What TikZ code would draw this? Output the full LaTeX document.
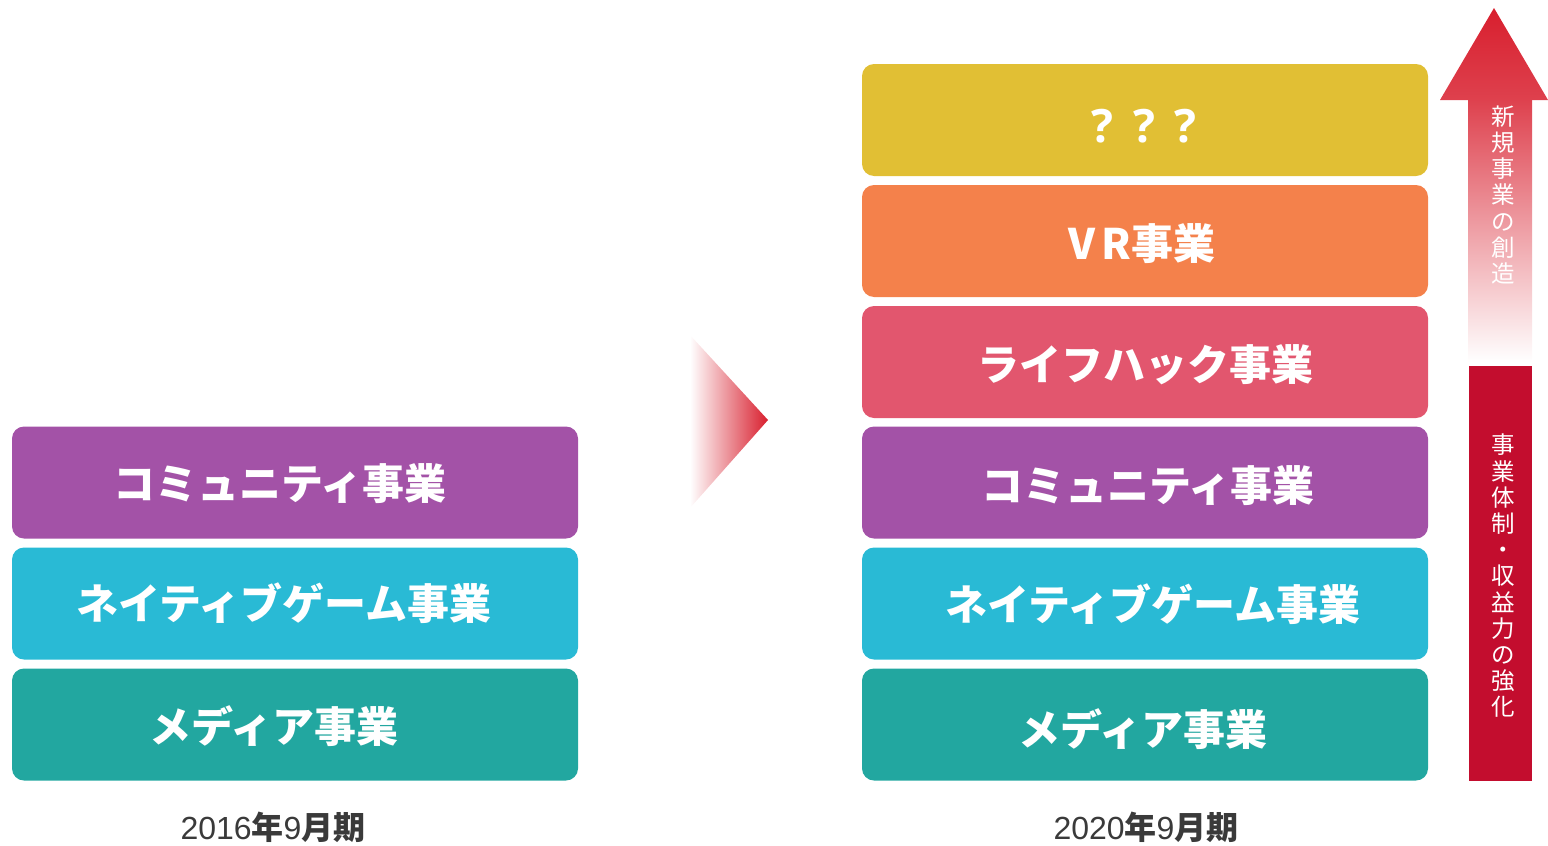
\documentclass[tikz,border=0pt]{standalone}
\usepackage{fontspec}
\newfontfamily\jp{Noto Sans CJK JP}
\newfontfamily\lib{Liberation Sans}
\newfontfamily\os{Open Sans}
\definecolor{cpurple}{HTML}{A352A7}
\definecolor{ccyan}{HTML}{29BAD5}
\definecolor{cteal}{HTML}{22A7A0}
\definecolor{cpink}{HTML}{E2566E}
\definecolor{corange}{HTML}{F4814B}
\definecolor{cyellow}{HTML}{E1BF34}
\definecolor{cred}{HTML}{D81F2E}
\definecolor{cbar}{HTML}{C30D2E}
\definecolor{cgray}{HTML}{3A3A3A}
\begin{document}
\begin{tikzpicture}[x=1pt,y=-1pt,
  box/.style={rounded corners=12pt, minimum width=566pt, minimum height=112pt, inner sep=0pt, draw=none},
  lbl/.style={text=white, font=\jp\bfseries\fontsize{42}{42}\selectfont, inner sep=0pt},
  yr/.style={text=cgray, font=\lib\fontsize{32}{32}\selectfont, inner sep=0pt, anchor=base},
  vtext/.style={text=white, font=\jp\fontsize{23.5}{26.2}\selectfont, align=center, inner sep=0pt}]
\useasboundingbox (0,0) rectangle (1548,846);
% left column
\node[box, fill=cpurple] (l1) at (295,482.5) {};
\node[box, fill=ccyan]   (l2) at (295,603.5) {};
\node[box, fill=cteal]   (l3) at (295,724.5) {};
\node[lbl] (t1) at (280,484) {コミュニティ事業};
\node[lbl] (t2) at (284,603) {ネイティブゲーム事業};
\node[lbl] (t3) at (274,726) {メディア事業};
% right column
\node[box, fill=cyellow] (r6) at (1145,120) {};
\node[box, fill=corange] (r5) at (1145,241) {};
\node[box, fill=cpink]   (r4) at (1145,362) {};
\node[box, fill=cpurple] (r3) at (1145,482.5) {};
\node[box, fill=ccyan]   (r2) at (1145,603.5) {};
\node[box, fill=cteal]   (r1) at (1145,724.5) {};
\node[text=white, font=\os\bfseries\fontsize{46}{46}\selectfont, inner sep=0pt] (s6) at (1144,126) {?\hspace{20pt}?\hspace{20pt}?};
\node[lbl] (s5) at (1142,244) {V\hspace{6pt}R事業};
\node[lbl] (s4) at (1145,365) {ライフハック事業};
\node[lbl] (s3) at (1148,486) {コミュニティ事業};
\node[lbl] (s2) at (1153,604) {ネイティブゲーム事業};
\node[lbl] (s1) at (1143,729) {メディア事業};
% year labels
\node[yr] (y1) at (273,839) {2016{\jp\bfseries 年}9{\jp\bfseries 月期}};
\node[yr] (y2) at (1146,839) {2020{\jp\bfseries 年}9{\jp\bfseries 月期}};
% middle triangle
\shade[left color=white, right color=cred] (690,335) -- (768,420) -- (690,508) -- cycle;
% up arrow
\shade[top color=cred, bottom color=cred!85!white] (1494,8) -- (1548,100) -- (1440,100) -- cycle;
\shade[top color=cred!85!white, middle color=cred!55!white, bottom color=white] (1468,99) rectangle (1532,362);
\node[vtext] (v1) at (1503,195) {新\\規\\事\\業\\の\\創\\造};
% bar
\fill[cbar] (1469,366) rectangle (1532,781);
\node[vtext] (v2) at (1503,576) {事\\業\\体\\制\\・\\収\\益\\力\\の\\強\\化};
\end{tikzpicture}
\end{document}
